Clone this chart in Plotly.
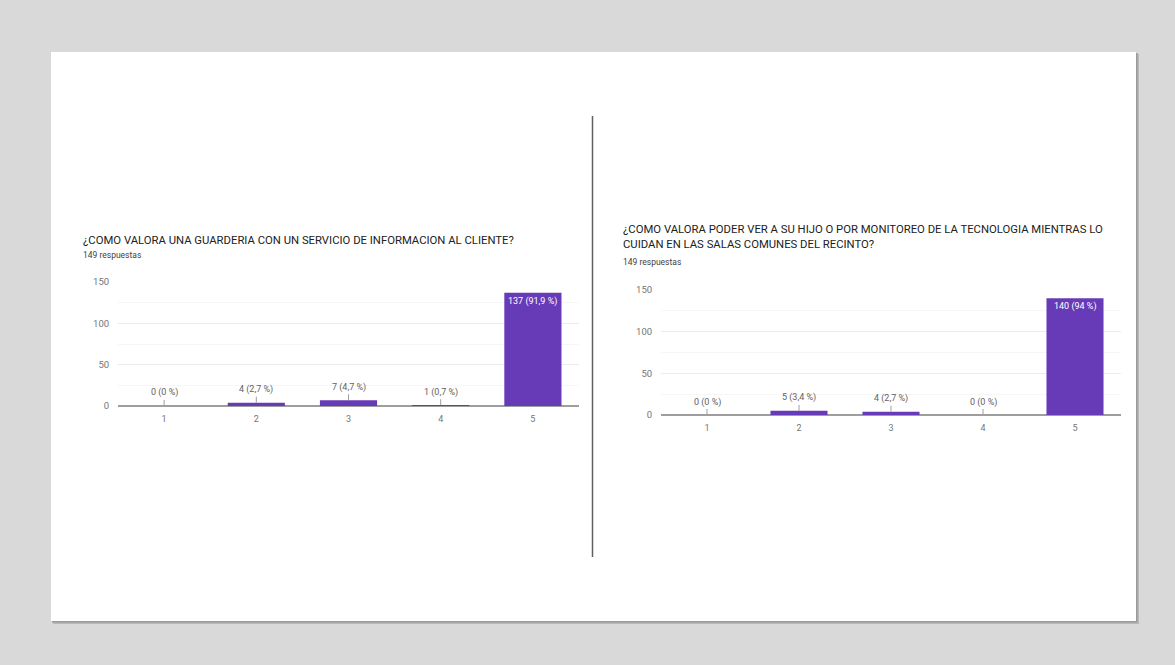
import plotly.graph_objects as go

W, H = 1175, 665

categories = ["1", "2", "3", "4", "5"]

title1 = "¿COMO VALORA UNA GUARDERIA CON UN SERVICIO DE INFORMACION AL CLIENTE?"
values1 = [0, 4, 7, 1, 137]
labels1 = ["0 (0 %)", "4 (2,7 %)", "7 (4,7 %)", "1 (0,7 %)", "137 (91,9 %)"]

title2 = "¿COMO VALORA PODER VER A SU HIJO O POR MONITOREO DE LA TECNOLOGIA MIENTRAS LO<br>CUIDAN EN LAS SALAS COMUNES DEL RECINTO?"
values2 = [0, 5, 4, 0, 140]
labels2 = ["0 (0 %)", "5 (3,4 %)", "4 (2,7 %)", "0 (0 %)", "140 (94 %)"]

responses = "149 respuestas"
y_ticks = [0, 50, 100, 150]

PURPLE = "#673ab7"
FONT = "Roboto"


def px(x):
    return x / W


def py(y):
    return 1 - y / H


fig = go.Figure()

panels = [
    dict(x0=118, x1=579, yt=282, yb=406, values=values1, labels=labels1,
         title=title1, tx=81, ty=240, sy=255, xa="x", ya="y"),
    dict(x0=661, x1=1121, yt=290, yb=415, values=values2, labels=labels2,
         title=title2, tx=621, ty=237, sy=262, xa="x2", ya="y2"),
]

annotations = []
for i, p in enumerate(panels):
    fig.add_trace(go.Bar(x=categories, y=p["values"], marker_color=PURPLE,
                         marker_line_width=0, xaxis=p["xa"], yaxis=p["ya"],
                         showlegend=False, hoverinfo="skip"))
    sfx = "" if i == 0 else "2"
    fig.update_layout(**{
        "xaxis" + sfx: dict(domain=[px(p["x0"]), px(p["x1"])], anchor="y" + sfx,
                            type="category", automargin=False,
                            range=[-0.5, len(categories) - 0.5],
                            showgrid=False, zeroline=False, showline=False,
                            ticks="outside", ticklen=4, tickcolor="rgba(0,0,0,0)",
                            tickfont=dict(family=FONT, size=9, color="#757575"),
                            fixedrange=True),
        "yaxis" + sfx: dict(domain=[py(p["yb"]), py(p["yt"])], anchor="x" + sfx,
                            automargin=False,
                            range=[0, 150], tickvals=y_ticks,
                            showgrid=True, gridcolor="#ececec", gridwidth=1,
                            minor=dict(dtick=25, showgrid=True, gridcolor="#f6f6f6", gridwidth=1),
                            zeroline=True, zerolinecolor="#9e9e9e", zerolinewidth=2,
                            showline=False, ticks="outside", ticklen=6,
                            tickcolor="rgba(0,0,0,0)",
                            tickfont=dict(family=FONT, size=9.5, color="#757575"),
                            fixedrange=True),
    })
    vmax = max(p["values"])
    for j, (v, lab) in enumerate(zip(p["values"], p["labels"])):
        if v == vmax:
            annotations.append(dict(x=j, y=v, xref=p["xa"], yref=p["ya"], text=lab,
                                    showarrow=False, yanchor="top", yshift=-1,
                                    font=dict(family=FONT, size=9, color="white")))
        else:
            annotations.append(dict(x=j, y=v, xref=p["xa"], yref=p["ya"], text=lab,
                                    showarrow=True, arrowhead=0, arrowwidth=1,
                                    arrowcolor="#9e9e9e", ax=0, ay=-13,
                                    font=dict(family=FONT, size=9, color="#616161")))
    annotations.append(dict(x=px(p["tx"]), y=py(p["ty"]), xref="paper", yref="paper",
                            text=p["title"], showarrow=False, xanchor="left",
                            yanchor="middle", align="left",
                            font=dict(family=FONT, size=11.3, color="#212121")))
    annotations.append(dict(x=px(p["tx"]), y=py(p["sy"]), xref="paper", yref="paper",
                            text=responses, showarrow=False, xanchor="left",
                            yanchor="middle",
                            font=dict(family=FONT, size=8.5, color="#424242")))

shapes = [
    dict(type="rect", xref="paper", yref="paper", x0=px(53), x1=px(1139),
         y0=py(624), y1=py(54), fillcolor="#b8b8b8", line_width=0, layer="below"),
    dict(type="rect", xref="paper", yref="paper", x0=px(52), x1=px(1137.5),
         y0=py(622.5), y1=py(53), fillcolor="#9a9a9a", line_width=0, layer="below"),
    dict(type="rect", xref="paper", yref="paper", x0=px(51), x1=px(1136),
         y0=py(621), y1=py(52), fillcolor="white", line_width=0, layer="below"),
    dict(type="line", xref="paper", yref="paper", x0=px(592.5), x1=px(592.5),
         y0=py(557), y1=py(116), line=dict(color="#5f5f5f", width=1.5)),
]

fig.update_layout(width=W, height=H, margin=dict(l=0, r=0, t=0, b=0, autoexpand=False),
                  paper_bgcolor="#d9d9d9", plot_bgcolor="rgba(0,0,0,0)",
                  bargap=0.38, annotations=annotations, shapes=shapes,
                  font=dict(family=FONT))

fig.write_html("out.html", config={"displayModeBar": False})
